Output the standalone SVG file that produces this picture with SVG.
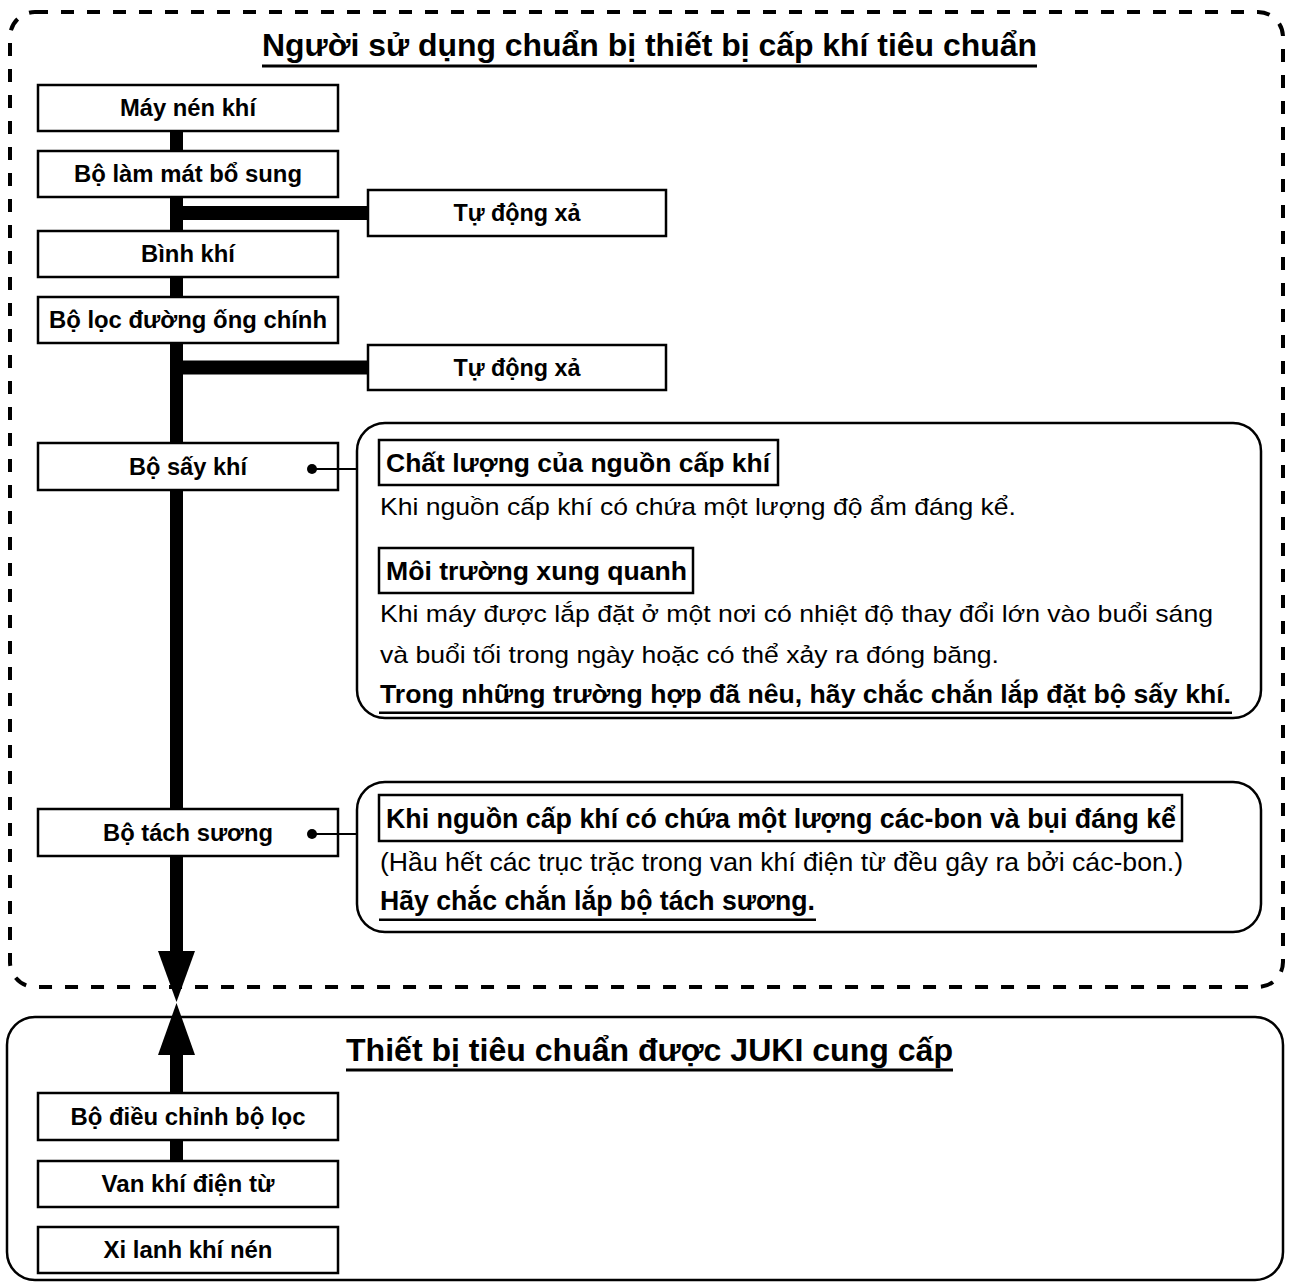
<svg xmlns="http://www.w3.org/2000/svg" width="1291" height="1286" viewBox="0 0 1291 1286">
<style>
text{font-family:"Liberation Sans",Arial,sans-serif;fill:#000}
.box{fill:#fff;stroke:#000;stroke-width:2.5}
.lbl{font-size:23px;font-weight:bold;text-anchor:middle}
.hd{font-size:25px;font-weight:bold}
.bd{font-size:24px}
.nhd{font-size:27px;font-weight:bold}
.nbd{font-size:26px}
.title{font-size:31px;font-weight:bold}
.callout{fill:#fff;stroke:#000;stroke-width:2.5}
</style>
<rect width="1291" height="1286" fill="#fff"/>
<g id="user-zone">
<rect x="10" y="12" width="1273" height="975" rx="25" fill="none" stroke="#000" stroke-width="4" stroke-dasharray="13 13"/>
<text class="title" x="262" y="56" textLength="775" lengthAdjust="spacingAndGlyphs">Người sử dụng chuẩn bị thiết bị cấp khí tiêu chuẩn</text>
<rect x="262" y="64.5" width="775" height="3"/>
</g>
<g id="juki-zone">
<rect x="7" y="1017" width="1276" height="263" rx="28" fill="none" stroke="#000" stroke-width="2.5"/>
<text class="title" x="346" y="1061" textLength="607" lengthAdjust="spacingAndGlyphs">Thiết bị tiêu chuẩn được JUKI cung cấp</text>
<rect x="346" y="1068.5" width="607" height="3"/>
</g>
<g id="connectors">
<rect x="170" y="131" width="13" height="822"/>
<rect x="170" y="206" width="198" height="14"/>
<rect x="170" y="360.5" width="198" height="14"/>
<polygon points="158,951 195,951 176.5,1002"/>
<polygon points="176.5,1003 195,1055 158,1055"/>
<rect x="170" y="1054" width="13" height="40"/>
<rect x="170" y="1139" width="13" height="23"/>
</g>
<g id="n-may-nen-khi"><rect class="box" x="38" y="85" width="300" height="46"/><text class="lbl" x="188" y="116" textLength="136" lengthAdjust="spacingAndGlyphs">Máy nén khí</text></g>
<g id="n-bo-lam-mat"><rect class="box" x="38" y="151" width="300" height="46"/><text class="lbl" x="188" y="182" textLength="228" lengthAdjust="spacingAndGlyphs">Bộ làm mát bổ sung</text></g>
<g id="n-tu-dong-xa-1"><rect class="box" x="368" y="190" width="298" height="46"/><text class="lbl" x="517" y="221" textLength="127" lengthAdjust="spacingAndGlyphs">Tự động xả</text></g>
<g id="n-binh-khi"><rect class="box" x="38" y="231" width="300" height="46"/><text class="lbl" x="188" y="262" textLength="94" lengthAdjust="spacingAndGlyphs">Bình khí</text></g>
<g id="n-bo-loc"><rect class="box" x="38" y="297" width="300" height="46"/><text class="lbl" x="188" y="328" textLength="278" lengthAdjust="spacingAndGlyphs">Bộ lọc đường ống chính</text></g>
<g id="n-tu-dong-xa-2"><rect class="box" x="368" y="345" width="298" height="45"/><text class="lbl" x="517" y="375.5" textLength="127" lengthAdjust="spacingAndGlyphs">Tự động xả</text></g>
<g id="n-bo-say-khi"><rect class="box" x="38" y="443" width="300" height="47"/><text class="lbl" x="188" y="474.5" textLength="118" lengthAdjust="spacingAndGlyphs">Bộ sấy khí</text></g>
<g id="n-bo-tach-suong"><rect class="box" x="38" y="809" width="300" height="47"/><text class="lbl" x="188" y="840.5" textLength="170" lengthAdjust="spacingAndGlyphs">Bộ tách sương</text></g>
<g id="n-bo-dieu-chinh"><rect class="box" x="38" y="1093" width="300" height="47"/><text class="lbl" x="188" y="1124.5" textLength="235" lengthAdjust="spacingAndGlyphs">Bộ điều chỉnh bộ lọc</text></g>
<g id="n-van-khi"><rect class="box" x="38" y="1161" width="300" height="46"/><text class="lbl" x="188" y="1192" textLength="173" lengthAdjust="spacingAndGlyphs">Van khí điện từ</text></g>
<g id="n-xi-lanh"><rect class="box" x="38" y="1227" width="300" height="46"/><text class="lbl" x="188" y="1258" textLength="169" lengthAdjust="spacingAndGlyphs">Xi lanh khí nén</text></g>
<g id="callout-links">
<line x1="312" y1="469" x2="358" y2="469" stroke="#000" stroke-width="2"/>
<circle cx="312" cy="469" r="5"/>
<line x1="312" y1="834" x2="358" y2="834" stroke="#000" stroke-width="2"/>
<circle cx="312" cy="834" r="5"/>
</g>
<g id="note-dryer">
<rect class="callout" x="357" y="423" width="904" height="295" rx="28"/>
<rect x="379" y="440" width="399" height="45" fill="none" stroke="#000" stroke-width="2.5"/>
<text class="hd" x="386" y="472" textLength="384" lengthAdjust="spacingAndGlyphs">Chất lượng của nguồn cấp khí</text>
<text class="bd" x="380" y="515" textLength="636" lengthAdjust="spacingAndGlyphs">Khi nguồn cấp khí có chứa một lượng độ ẩm đáng kể.</text>
<rect x="379" y="548" width="314" height="45" fill="none" stroke="#000" stroke-width="2.5"/>
<text class="hd" x="386" y="580" textLength="301" lengthAdjust="spacingAndGlyphs">Môi trường xung quanh</text>
<text class="bd" x="380" y="622" textLength="833" lengthAdjust="spacingAndGlyphs">Khi máy được lắp đặt ở một nơi có nhiệt độ thay đổi lớn vào buổi sáng</text>
<text class="bd" x="380" y="663" textLength="619" lengthAdjust="spacingAndGlyphs">và buổi tối trong ngày hoặc có thể xảy ra đóng băng.</text>
<text class="hd" x="380" y="703" textLength="851" lengthAdjust="spacingAndGlyphs">Trong những trường hợp đã nêu, hãy chắc chắn lắp đặt bộ sấy khí.</text>
<rect x="379" y="711.5" width="853" height="2.5"/>
</g>
<g id="note-separator">
<rect class="callout" x="357" y="782" width="904" height="150" rx="28"/>
<rect x="379" y="795" width="803" height="46" fill="none" stroke="#000" stroke-width="2.5"/>
<text class="nhd" x="386" y="828" textLength="790" lengthAdjust="spacingAndGlyphs">Khi nguồn cấp khí có chứa một lượng các-bon và bụi đáng kể</text>
<text class="nbd" x="380" y="871" textLength="803" lengthAdjust="spacingAndGlyphs">(Hầu hết các trục trặc trong van khí điện từ đều gây ra bởi các-bon.)</text>
<text class="nhd" x="380" y="910" textLength="435" lengthAdjust="spacingAndGlyphs">Hãy chắc chắn lắp bộ tách sương.</text>
<rect x="379" y="918.5" width="437" height="2.5"/>
</g>
</svg>
